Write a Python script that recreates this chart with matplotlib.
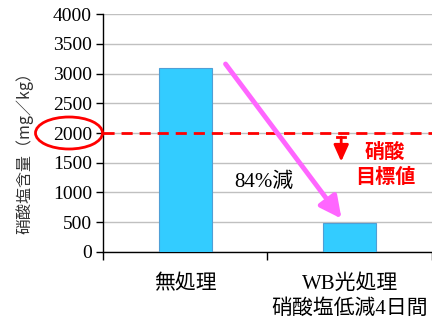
import matplotlib
matplotlib.use("Agg")
import matplotlib.pyplot as plt
from matplotlib.patches import Ellipse

plt.rcParams['font.family'] = ['Liberation Serif', 'Noto Sans CJK JP']

categories = ["無処理", "WB光処理\n硝酸塩低減4日間"]
nitrate = [3100, 490]
target = 2000
yticks = [0, 500, 1000, 1500, 2000, 2500, 3000, 3500, 4000]

fig = plt.figure(figsize=(4.32, 3.22), dpi=100)
ax = fig.add_axes([0.2384, 0.2174, 0.7616, 0.7391])

x = range(len(categories))
ax.bar(x, nitrate, width=0.32, color="#33ccff", edgecolor="#4f9fd6",
       linewidth=0.8, zorder=3)

ax.set_xlim(-0.5, 1.5)
ax.set_ylim(0, 4000)
ax.set_yticks(yticks)
ax.set_yticklabels([str(v) for v in yticks], fontsize=14)
ax.set_xticks([-0.5, 0.5, 1.5])
ax.set_xticklabels([])
ax.tick_params(axis="x", length=6, width=1)
ax.tick_params(axis="y", length=5, width=1, pad=3)
for i, lab in enumerate(categories):
    ax.text(i, -380, lab, ha="center", va="top", fontsize=15,
            linespacing=1.38, family=['Liberation Serif', 'Noto Sans CJK JP'])

ax.grid(axis="y", color="#c0c0c0", linewidth=1, zorder=0)
ax.spines["top"].set_visible(False)
ax.spines["right"].set_visible(False)
ax.spines["left"].set_linewidth(1)
ax.spines["bottom"].set_linewidth(1)

ax.set_ylabel("硝酸塩含量（mg／kg）", fontsize=11.5,
              family=['Noto Sans CJK JP', 'Liberation Serif'], color="#333333")
ax.yaxis.set_label_coords(-0.212, 0.433)

# target line
ax.axhline(target, color="#ff0000", linestyle=(0, (4, 2.5)), linewidth=2, zorder=4)

# circle around the 2000 tick label
ell = Ellipse((69 / 432, 1 - 133 / 322), 67 / 432, 32 / 322,
              transform=fig.transFigure, fill=False, edgecolor="#ff0000",
              linewidth=2)
fig.add_artist(ell)

# reduction arrow
ax.annotate("", xy=(0.95, 560), xytext=(0.245, 3160),
            arrowprops=dict(arrowstyle="-|>,head_length=1.3,head_width=0.65",
                            color="#ff66ff", linewidth=3.5, shrinkA=0, shrinkB=0),
            zorder=5)
ax.text(0.48, 1180, "84%減", ha="center", va="center", fontsize=15,
        family=['Liberation Serif', 'Noto Sans CJK JP'])

# target marker
ax.annotate("", xy=(0.948, 1520), xytext=(0.948, 1930),
            arrowprops=dict(arrowstyle="-|>,head_length=1.0,head_width=0.45",
                            color="#ff0000", linewidth=2, shrinkA=0, shrinkB=0),
            zorder=5)
ax.plot([0.925, 0.971], [1930, 1930], color="#ff0000", linewidth=2, zorder=5)
ax.text(1.215, 1480, "硝酸\n目標値", ha="center", va="center", fontsize=14.5,
        color="#ff0000", fontweight="bold", linespacing=1.25,
        family=['Noto Sans CJK JP'])

fig.savefig("out.png", dpi=100)
